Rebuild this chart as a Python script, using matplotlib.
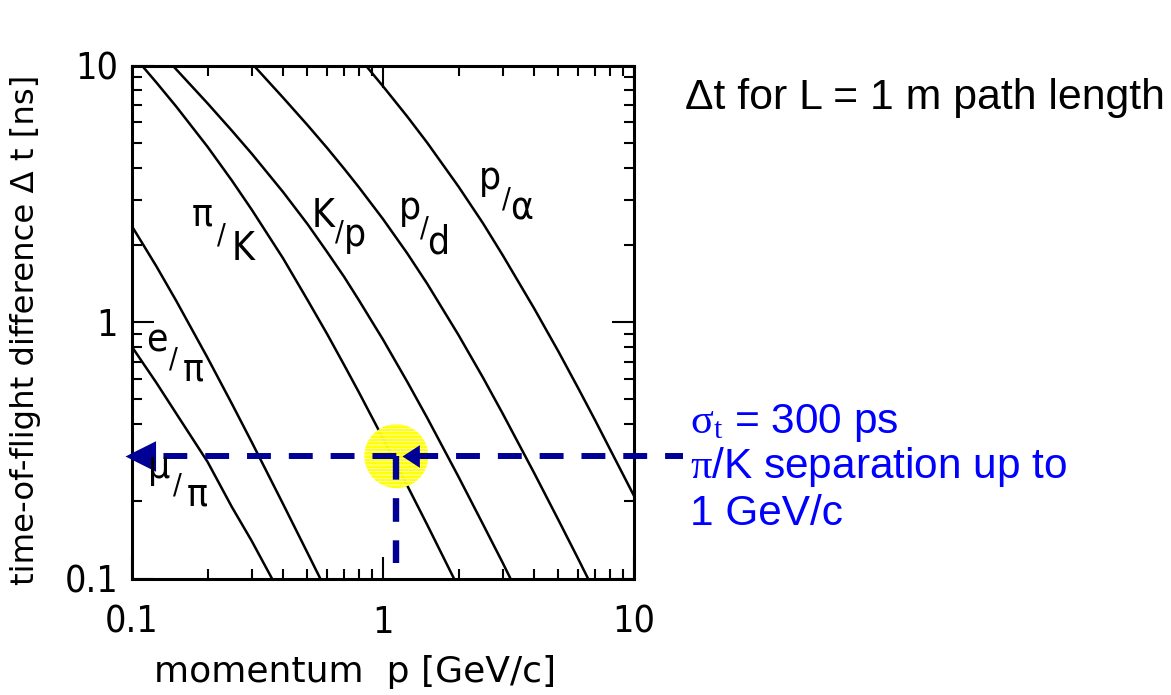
import matplotlib
matplotlib.use('Agg')
import matplotlib.pyplot as plt
from matplotlib import font_manager as fm
from matplotlib import transforms as mtrans
from matplotlib.patches import Circle
from matplotlib.path import Path
from matplotlib.ticker import FixedLocator, FixedFormatter, LogLocator, NullFormatter

# ---------------- data ----------------
p_e_pi = [0.1, 0.125, 0.15, 0.2, 0.25, 0.3, 0.4, 0.5, 0.6]
dt_e_pi = [2.36, 1.65, 1.21, 0.725, 0.48, 0.34, 0.195, 0.126, 0.088]

p_mu_pi = [0.1, 0.125, 0.15, 0.2, 0.25, 0.3, 0.4]
dt_mu_pi = [0.80, 0.58, 0.44, 0.285, 0.19, 0.14, 0.083]

p_pi_K = [0.1, 0.125, 0.15, 0.2, 0.25, 0.3, 0.4, 0.5, 0.6, 0.7, 0.8, 1.0, 1.25, 1.5, 2.0]
dt_pi_K = [11.1, 8.59, 6.92, 4.82, 3.56, 2.74, 1.77, 1.22, 0.895, 0.68, 0.534, 0.352, 0.23, 0.162, 0.092]

p_K_p = [0.125, 0.15, 0.2, 0.25, 0.3, 0.4, 0.5, 0.6, 0.7, 0.8, 1.0, 1.25, 1.5, 2.0, 2.5, 3.0, 4.0]
dt_K_p = [11.7, 9.66, 7.12, 5.57, 4.53, 3.21, 2.41, 1.87, 1.50, 1.22, 0.854, 0.584, 0.423, 0.249, 0.163, 0.115, 0.065]

p_p_d = [0.25, 0.3, 0.4, 0.5, 0.6, 0.7, 0.8, 1.0, 1.25, 1.5, 2.0, 2.5, 3.0, 4.0, 5.0, 6.0, 7.0]
dt_p_d = [12.3, 10.2, 7.49, 5.86, 4.76, 3.96, 3.36, 2.52, 1.85, 1.41, 0.889, 0.608, 0.439, 0.258, 0.169, 0.119, 0.088]

p_p_alpha = [0.8, 1.0, 1.25, 1.5, 2.0, 2.5, 3.0, 4.0, 5.0, 6.0, 7.0, 8.0, 10.0]
dt_p_alpha = [10.8, 8.30, 6.32, 5.00, 3.37, 2.43, 1.82, 1.13, 0.767, 0.551, 0.414, 0.321, 0.21]

x_ticks = [0.1, 1, 10]
x_tick_labels = ['0.1', '1', '10']
y_ticks = [0.1, 1, 10]
y_tick_labels = ['0.1', '1', '10']

sigma_t = 0.3      # ns  (300 ps)
p_limit = 1.13     # GeV/c

# ---------------- fonts ----------------
names = {f.name for f in fm.fontManager.ttflist}
if 'Liberation Sans Narrow' in names:
    NARROW = ['Liberation Sans Narrow', 'DejaVu Sans']
    nstretch = 'normal'
else:
    NARROW = ['DejaVu Sans']
    nstretch = 'condensed'
SANS = ['Liberation Sans', 'DejaVu Sans']

plt.rcParams['mathtext.fontset'] = 'custom'
plt.rcParams['mathtext.rm'] = 'Liberation Serif'
plt.rcParams['mathtext.it'] = 'Liberation Serif:italic'
plt.rcParams['mathtext.sf'] = 'Liberation Sans'
plt.rcParams['hatch.linewidth'] = 0.5

W, H = 1171, 695
fig = plt.figure(figsize=(W / 100, H / 100), dpi=100)
ax = fig.add_axes([132 / W, 1 - 578.5 / H, 502 / W, 513 / H])
ax.set_xscale('log')
ax.set_yscale('log')

curves = [(p_e_pi, dt_e_pi), (p_mu_pi, dt_mu_pi), (p_pi_K, dt_pi_K),
          (p_K_p, dt_K_p), (p_p_d, dt_p_d), (p_p_alpha, dt_p_alpha)]
for p, dt in curves:
    ax.plot(p, dt, color='black', lw=1.8, zorder=3)

# ticks
ax.xaxis.set_major_locator(FixedLocator(x_ticks))
ax.xaxis.set_major_formatter(FixedFormatter(x_tick_labels))
ax.yaxis.set_major_locator(FixedLocator(y_ticks))
ax.yaxis.set_major_formatter(FixedFormatter(y_tick_labels))
for a in (ax.xaxis, ax.yaxis):
    a.set_minor_locator(LogLocator(base=10, subs=range(2, 10)))
    a.set_minor_formatter(NullFormatter())
ax.tick_params(which='major', direction='in', length=16, width=1.5,
               top=True, right=True, labelsize=27)
ax.tick_params(which='minor', direction='in', length=7, width=1.5,
               top=True, right=True)
ax.tick_params(axis='x', which='major', pad=19)
ax.tick_params(axis='y', which='major', pad=10)
for lab in ax.get_xticklabels() + ax.get_yticklabels():
    lab.set_fontfamily(NARROW)
    lab.set_fontstretch(nstretch)
for s in ax.spines.values():
    s.set_linewidth(2.2)

ax.set_xlim(0.1, 10)
ax.set_ylim(0.1, 10)

# ---------------- annotation: sigma_t line, circle, arrows ----------------
navy = '#000096'
blend = mtrans.blended_transform_factory(ax.transAxes, ax.transData)
ax.plot([(683 - 132) / 502, 0.0], [sigma_t, sigma_t], transform=blend,
        color=navy, lw=4.3, linestyle=(1, (4, 3)), dash_capstyle='butt',
        clip_on=False, zorder=6)
ax.plot([p_limit, p_limit], [sigma_t, 0.115], color=navy, lw=4.6,
        linestyle=(0, (3.7, 2.9)), dash_capstyle='butt', clip_on=False, zorder=6)

circ_tr = fig.dpi_scale_trans + mtrans.ScaledTranslation(p_limit, sigma_t, ax.transData)
circ = Circle((0, 0), 0.32, transform=circ_tr, facecolor='#FFFF00',
              edgecolor='white', hatch='-----', lw=0, zorder=5, alpha=0.97)
ax.add_artist(circ)

left_head = Path([(0, 0), (1, 0.5), (1, -0.5), (0, 0)],
                 [Path.MOVETO, Path.LINETO, Path.LINETO, Path.CLOSEPOLY])
mid_head = Path([(0, 0), (1, 0.65), (1, -0.65), (0, 0)],
                [Path.MOVETO, Path.LINETO, Path.LINETO, Path.CLOSEPOLY])
ax.plot([-7 / 502], [sigma_t], transform=blend, marker=left_head, ms=44,
        color=navy, mew=0, clip_on=False, zorder=7)
ax.plot([270 / 502], [sigma_t], transform=blend, marker=mid_head, ms=25,
        color=navy, mew=0, clip_on=False, zorder=7)

# ---------------- curve labels ----------------
def px(x, y):
    return x / W, 1 - y / H

curve_labels = [
    # (numerator, num pos, denominator, den pos, slash pos)  positions: (x center, baseline) px
    ('π', (202, 225), 'K', (243, 260), (221, 243)),
    ('K', (323, 227), 'p', (355, 246), (339, 240)),
    ('p', (410, 219), 'd', (438, 253), (424, 237)),
    ('p', (490, 189), 'α', (522, 220), (506, 208)),
    ('e', (157, 352), 'π', (193, 380), (173, 368)),
    ('μ', (159, 478), 'π', (197, 505), (177, 493)),
]
for num, npos, den, dpos, spos in curve_labels:
    fig.text(*px(*npos), num, fontsize=28, family=NARROW, stretch=nstretch,
             ha='center', va='baseline')
    fig.text(*px(*dpos), den, fontsize=28, family=NARROW, stretch=nstretch,
             ha='center', va='baseline')
    fig.text(*px(*spos), '/', fontsize=21, family=NARROW, stretch=nstretch,
             ha='center', va='baseline')

# ---------------- axis labels ----------------
fig.text(*px(355, 672), 'momentum  p [GeV/c]', fontsize=26, family=['DejaVu Sans'],
         ha='center', va='center')
fig.text(*px(26, 330), 'time-of-flight difference Δ t [ns]', fontsize=23.3,
         family=['DejaVu Sans'], rotation=90, ha='center', va='center')

# ---------------- right-hand texts ----------------
fig.text(*px(685, 109), 'Δt for L = 1 m path length', fontsize=30.8, family=SANS,
         color='black', ha='left', va='baseline')
blue = '#0000FF'
fig.text(*px(690, 433), r'$\mathrm{\sigma_t}$ = 300 ps', fontsize=30.5, family=SANS,
         color=blue, ha='left', va='baseline')
fig.text(*px(690, 478), r'$\mathrm{\pi}$/K separation up to', fontsize=30.5, family=SANS,
         color=blue, ha='left', va='baseline')
fig.text(*px(690, 525), '1 GeV/c', fontsize=30.5, family=SANS,
         color=blue, ha='left', va='baseline')

fig.savefig('out.png', dpi=100)
